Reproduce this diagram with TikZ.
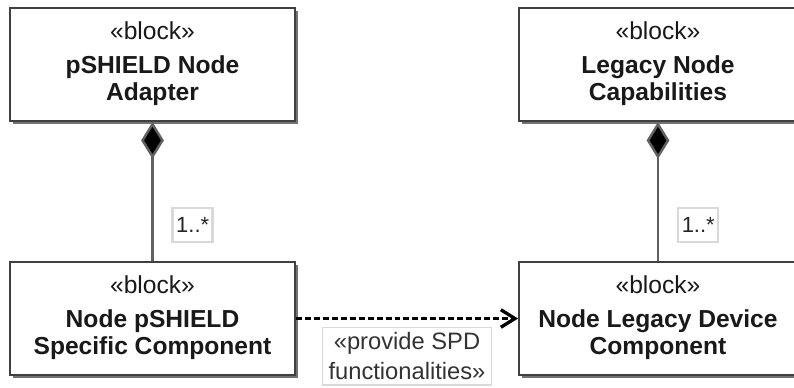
\documentclass[tikz,border=0pt]{standalone}
\usepackage{fontspec}
\setmainfont{Liberation Sans}
\usetikzlibrary{arrows.meta,shadows,positioning}

\newcommand{\stereo}[1]{{\mdseries«#1»}}

\tikzset{
  block/.style={draw=black!75,line width=1.1pt,fill=white,align=center,
    minimum height=2.26cm,text depth=4pt,text=black!90,
    font=\fontsize{14pt}{15.3pt}\selectfont,
    drop shadow={shadow xshift=1.5pt,shadow yshift=-1.7pt,fill=black!55,opacity=1}},
  compose/.style={draw=black!62,line width=1.4pt,{Diamond[length=21pt,width=13pt,fill=black]}-},
  mult/.style={draw=black!15,fill=white,minimum width=0.8cm,minimum height=0.68cm,
    inner sep=1pt,font=\fontsize{12.5pt}{14pt}\selectfont,text=black!85},
  provide/.style={black,line width=1.9pt,dash pattern=on 3.4pt off 1.7pt,
    -{Straight Barb[length=8pt,width=10pt]}},
  provlabel/.style={draw=black!15,solid,line width=0.8pt,fill=white,align=center,
    minimum width=3.38cm,inner sep=3pt,
    font=\fontsize{13.5pt}{17pt}\selectfont,text=black!80}
}

\begin{document}
\begin{tikzpicture}[x=0.02cm,y=-0.02cm]
  \useasboundingbox (0,0) rectangle (794,387);
  \node[block,minimum width=5.7cm] (adapter) at (152.5,64.5)
    {\stereo{block}\\[4pt]\textbf{pSHIELD Node}\\\textbf{Adapter}};
  \node[block,minimum width=5.56cm] (legacy) at (658,64.5)
    {\stereo{block}\\[4pt]\textbf{Legacy Node}\\\textbf{Capabilities}};
  \node[block,minimum width=5.7cm] (specific) at (152.5,318.5)
    {\stereo{block}\\[4pt]\textbf{Node pSHIELD}\\\textbf{Specific Component}};
  \node[block,minimum width=5.56cm] (device) at (658,318.5)
    {\stereo{block}\\[4pt]\textbf{Node Legacy Device}\\\textbf{Component}};

  \foreach \whole/\part in {adapter/specific,legacy/device}{
    \draw[compose] (\whole.south) -- (\part.north)
      node[mult,pos=0.74,right=0.38cm] {1..*};
  }
  \draw[provide] (specific.east) -- (device.west)
    node[provlabel,midway,below=0.16cm] {«provide SPD\\functionalities»};
\end{tikzpicture}
\end{document}
